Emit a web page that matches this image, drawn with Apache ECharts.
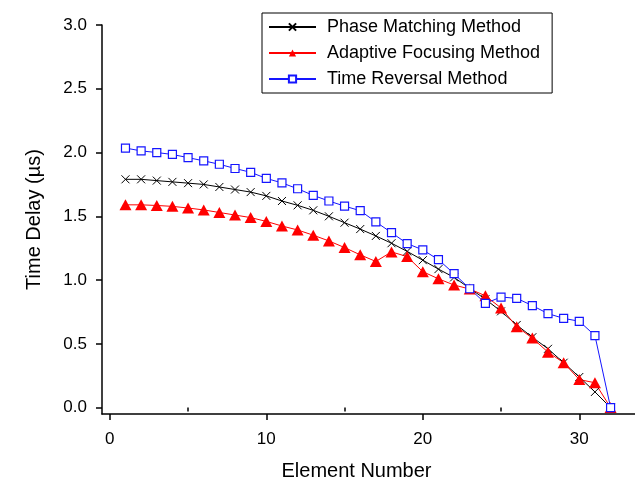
<!DOCTYPE html>
<html>
<head>
<meta charset="utf-8">
<title>Time Delay vs Element Number</title>
<script src="https://cdn.jsdelivr.net/npm/echarts@6/dist/echarts.min.js"></script>
<style>
  html, body { margin: 0; padding: 0; background: #fff; }
  #chart { width: 635px; height: 486px; }
</style>
</head>
<body>
<div id="chart"></div>
<script>
// Array element indices
const elements = [1, 2, 3, 4, 5, 6, 7, 8, 9, 10, 11, 12, 13, 14, 15, 16,
                  17, 18, 19, 20, 21, 22, 23, 24, 25, 26, 27, 28, 29, 30, 31, 32];

// Time delay per element (µs) for each focusing method
const phaseMatching = [1.79, 1.79, 1.78, 1.77, 1.76, 1.75, 1.73, 1.71, 1.69, 1.66, 1.62, 1.586,
                       1.547, 1.50, 1.45, 1.40, 1.346, 1.289, 1.225, 1.156, 1.086, 1.021, 0.935, 0.85,
                       0.755, 0.648, 0.552, 0.461, 0.352, 0.24, 0.123, 0.0];
const adaptiveFocusing = [1.59, 1.59, 1.585, 1.578, 1.565, 1.55, 1.53, 1.51, 1.49, 1.46, 1.424, 1.393,
                          1.352, 1.307, 1.255, 1.198, 1.146, 1.221, 1.184, 1.066, 1.01, 0.961, 0.93, 0.877,
                          0.781, 0.635, 0.545, 0.435, 0.352, 0.22, 0.195, 0.0];
const timeReversal = [2.035, 2.013, 2.0, 1.985, 1.96, 1.935, 1.908, 1.875, 1.845, 1.797, 1.762, 1.716,
                      1.664, 1.62, 1.58, 1.544, 1.456, 1.372, 1.286, 1.237, 1.16, 1.05, 0.932, 0.818,
                      0.867, 0.857, 0.8, 0.737, 0.70, 0.677, 0.565, 0.0];

// Axis tick positions
const xMajorTicks = [0, 10, 20, 30];
const xMinorTicks = [5, 15, 25];
const yTicks = [0, 0.5, 1.0, 1.5, 2.0, 2.5, 3.0];

const pairs = (ys) => elements.map((x, i) => [x, ys[i]]);

const FONT = 'Liberation Sans, Arial, sans-serif';
const BLUE = '#1515ff';
const RED = '#ff0000';

const chart = echarts.init(document.getElementById('chart'), null, { renderer: 'canvas' });

chart.setOption({
  animation: false,
  backgroundColor: '#fff',
  grid: { left: 102, top: 25, right: 0, bottom: 71, containLabel: false },
  legend: {
    orient: 'vertical',
    left: 262,
    top: 13,
    padding: [4, 12, 4, 6],
    itemWidth: 47,
    itemHeight: 9,
    itemGap: 6,
    borderColor: '#000',
    borderWidth: 1,
    borderRadius: 0,
    textStyle: { fontFamily: FONT, fontSize: 18, color: '#000', padding: [0, 0, 0, 6], lineHeight: 20 },
    data: ['Phase Matching Method', 'Adaptive Focusing Method', 'Time Reversal Method']
  },
  xAxis: [{
    type: 'value',
    min: -0.5,
    max: 33.56,
    position: 'bottom',
    name: 'Element Number',
    nameLocation: 'middle',
    nameGap: 47,
    nameTextStyle: { fontFamily: FONT, fontSize: 20, color: '#000', padding: [0, 24, 0, 0] },
    axisLine: { onZero: false, lineStyle: { color: '#000', width: 1.5 } },
    axisTick: { show: true, inside: false, length: 6, customValues: xMajorTicks,
                lineStyle: { color: '#000', width: 1.5 } },
    axisLabel: { customValues: xMajorTicks, margin: 17, fontFamily: FONT, fontSize: 17, color: '#000' },
    splitLine: { show: false }
  }, {
    // short ticks at the half-decades
    type: 'value',
    min: -0.5,
    max: 33.56,
    position: 'bottom',
    axisLine: { show: false },
    axisTick: { show: true, inside: false, length: 4, customValues: xMinorTicks,
                lineStyle: { color: '#000', width: 1.5 } },
    axisLabel: { show: false },
    splitLine: { show: false }
  }],
  yAxis: {
    type: 'value',
    min: -0.05,
    max: 3.0,
    name: 'Time Delay (µs)',
    nameLocation: 'middle',
    nameGap: 58,
    nameTextStyle: { fontFamily: FONT, fontSize: 20, color: '#000' },
    axisLine: { show: true, onZero: false, lineStyle: { color: '#000', width: 1.5 } },
    axisTick: { show: true, inside: false, length: 6, customValues: yTicks,
                lineStyle: { color: '#000', width: 1.5 } },
    axisLabel: { customValues: yTicks, margin: 15, fontFamily: FONT, fontSize: 17, color: '#000',
                 formatter: (v) => v.toFixed(1) },
    splitLine: { show: false }
  },
  series: [{
    name: 'Phase Matching Method',
    type: 'line',
    data: pairs(phaseMatching),
    color: '#000',
    symbol: 'path://M0,0L10,10M10,0L0,10',
    symbolSize: 8,
    showAllSymbol: true,
    lineStyle: { color: '#000', width: 1 },
    itemStyle: { color: '#000', borderColor: '#000', borderWidth: 1 }
  }, {
    name: 'Adaptive Focusing Method',
    type: 'line',
    data: pairs(adaptiveFocusing),
    color: RED,
    symbol: 'triangle',
    symbolSize: [12, 11],
    showAllSymbol: true,
    lineStyle: { color: RED, width: 1 },
    itemStyle: { color: RED, borderWidth: 0 }
  }, {
    name: 'Time Reversal Method',
    type: 'line',
    data: pairs(timeReversal),
    color: BLUE,
    symbol: 'rect',
    symbolSize: 8,
    showAllSymbol: true,
    lineStyle: { color: BLUE, width: 1 },
    itemStyle: { color: '#fff', borderColor: BLUE, borderWidth: 1.2 }
  }]
});
</script>
</body>
</html>
